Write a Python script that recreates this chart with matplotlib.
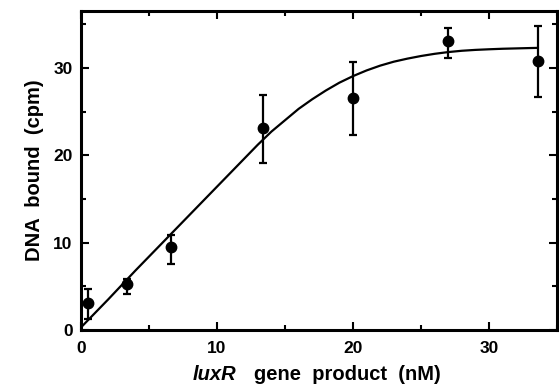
import matplotlib
matplotlib.use("Agg")
import matplotlib.pyplot as plt
from matplotlib.ticker import MultipleLocator

# measured data (luxR gene product, nM) vs DNA bound (cpm)
x_data = [0.5, 3.35, 6.65, 13.35, 20.0, 27.0, 33.6]
y_data = [3.1, 5.3, 9.5, 23.1, 26.6, 33.1, 30.8]
err_low = [1.8, 1.2, 1.95, 4.0, 4.3, 2.0, 4.1]
err_high = [1.6, 0.5, 1.4, 3.8, 4.05, 1.4, 4.0]

# fitted curve
curve_x = [0, 2, 4, 6, 8, 10, 11, 12, 13, 14, 15, 16, 17, 18, 19, 20, 21, 22,
           23, 24, 25, 26, 27, 28, 29, 30, 31, 32, 33, 33.6]
curve_y = [0.3, 3.5, 6.8, 10.0, 13.2, 16.4, 18.0, 19.6, 21.2, 22.7, 24.0, 25.3,
           26.4, 27.4, 28.3, 29.05, 29.7, 30.25, 30.7, 31.05, 31.35, 31.6, 31.8,
           31.95, 32.05, 32.12, 32.18, 32.22, 32.26, 32.28]

x_ticks = [0, 10, 20, 30]
y_ticks = [0, 10, 20, 30]

plt.rcParams['font.family'] = ['Liberation Sans', 'DejaVu Sans']

fig = plt.figure(figsize=(5.59, 3.90), dpi=100)
ax = fig.add_axes([81 / 559, 60 / 390, (557 - 81) / 559, (330 - 11) / 390])

ax.plot(curve_x, curve_y, color='black', lw=1.6, solid_capstyle='round',
        solid_joinstyle='round')
ax.errorbar(x_data, y_data, yerr=[err_low, err_high], fmt='o', color='black',
            ms=7.5, elinewidth=1.6, capsize=3, capthick=1.6)

ax.set_xlim(0, 35)
ax.set_ylim(0, 36.5)
ax.set_xticks(x_ticks)
ax.set_yticks(y_ticks)
ax.xaxis.set_minor_locator(MultipleLocator(5))
ax.yaxis.set_minor_locator(MultipleLocator(5))
ax.tick_params(which='both', direction='in', top=True, right=True, width=1.5)
ax.tick_params(which='major', length=6, labelsize=12.5)
ax.tick_params(axis='x', which='major', pad=8)
ax.tick_params(axis='y', which='major', pad=6)
ax.tick_params(which='minor', length=3.5)
for lab in ax.get_xticklabels() + ax.get_yticklabels():
    lab.set_fontweight('bold')
for s in ax.spines.values():
    s.set_linewidth(2.2)

ax.set_ylabel('DNA  bound  (cpm)', fontsize=14.5, fontweight='bold', labelpad=7)

t1 = fig.text(193 / 559, 1 - 374 / 390, 'luxR', fontsize=14.5, fontweight='bold',
              fontstyle='italic', ha='left', va='center')
ax.annotate('   gene  product  (nM)', xy=(1, 0), xycoords=t1, va='bottom', ha='left',
            fontsize=14.5, fontweight='bold')

fig.savefig('out.png', dpi=100)
